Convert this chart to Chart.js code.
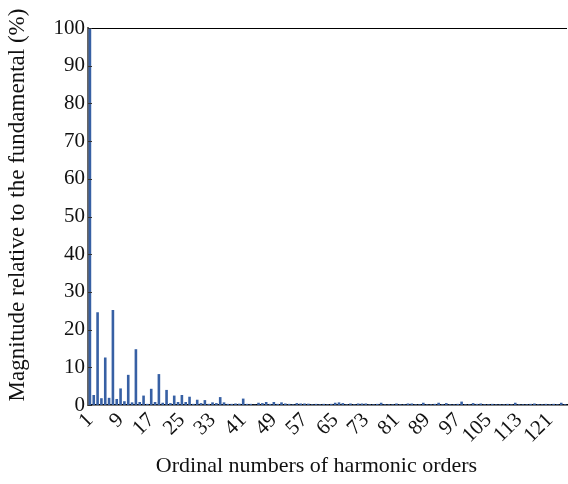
<!DOCTYPE html>
<html>
<head>
<meta charset="utf-8">
<script src="https://cdn.jsdelivr.net/npm/chart.js@4/dist/chart.umd.min.js"></script>
<style>
  html, body { margin: 0; padding: 0; background: #fff; }
  #wrap { width: 568px; height: 484px; }
</style>
</head>
<body>
<div id="wrap"><canvas id="harmonics"></canvas></div>
<script>
// Harmonic orders on the x axis
const orders = [
    1, 2, 3, 4, 5, 6, 7, 8, 9, 10, 11, 12, 13, 14, 15, 16, 17, 18, 19, 20,
    21, 22, 23, 24, 25, 26, 27, 28, 29, 30, 31, 32, 33, 34, 35, 36, 37, 38, 39, 40,
    41, 42, 43, 44, 45, 46, 47, 48, 49, 50, 51, 52, 53, 54, 55, 56, 57, 58, 59, 60,
    61, 62, 63, 64, 65, 66, 67, 68, 69, 70, 71, 72, 73, 74, 75, 76, 77, 78, 79, 80,
    81, 82, 83, 84, 85, 86, 87, 88, 89, 90, 91, 92, 93, 94, 95, 96, 97, 98, 99, 100,
    101, 102, 103, 104, 105, 106, 107, 108, 109, 110, 111, 112, 113, 114, 115, 116, 117, 118, 119, 120,
    121, 122, 123, 124, 125
];

// Magnitude of each harmonic, % of the fundamental
const magnitudes = [
    100, 2.65, 24.6, 1.8, 12.6, 1.9, 25.2, 1.6, 4.4, 1.0,
    8.0, 0.7, 14.8, 0.8, 2.5, 0.3, 4.3, 0.8, 8.2, 0.6,
    4.0, 0.5, 2.5, 0.8, 2.65, 0.8, 2.2, 0.3, 1.4, 0.5,
    1.3, 0.3, 0.7, 0.5, 2.1, 0.7, 0.3, 0.3, 0.4, 0.35,
    1.7, 0.3, 0.3, 0.1, 0.6, 0.5, 0.8, 0.3, 0.8, 0.3,
    0.7, 0.4, 0.3, 0.2, 0.5, 0.4, 0.4, 0.35, 0.2, 0.3,
    0.2, 0.3, 0.2, 0.3, 0.6, 0.7, 0.5, 0.2, 0.4, 0.2,
    0.4, 0.4, 0.4, 0.2, 0.2, 0.3, 0.6, 0.2, 0.2, 0.2,
    0.4, 0.2, 0.2, 0.4, 0.4, 0.2, 0.2, 0.6, 0.2, 0.2,
    0.3, 0.6, 0.2, 0.5, 0.2, 0.2, 0.3, 0.9, 0.2, 0.2,
    0.5, 0.3, 0.4, 0.2, 0.2, 0.3, 0.2, 0.2, 0.2, 0.3,
    0.2, 0.6, 0.2, 0.2, 0.2, 0.3, 0.4, 0.2, 0.2, 0.3,
    0.2, 0.3, 0.2, 0.6, 0.2
];

// Orders that get a label under the axis
const shownOrders = [1, 9, 17, 25, 33, 41, 49, 57, 65, 73, 81, 89, 97, 105, 113, 121];

const yTicks = [0, 10, 20, 30, 40, 50, 60, 70, 80, 90, 100];

const serif = 'Liberation Serif, Times New Roman, serif';
const pad = '\u00a0\u00a0\u00a0\u00a0'; // nudges the axis titles off centre like the original

// Draws the top frame line and the short inward y ticks
const framePlugin = {
    id: 'frame',
    afterDraw(chart) {
        const ctx = chart.ctx;
        const area = chart.chartArea;
        const yScale = chart.scales.y;
        ctx.save();
        ctx.strokeStyle = '#000';
        ctx.lineWidth = 1;
        ctx.beginPath();
        ctx.moveTo(area.left, area.top + 0.5);
        ctx.lineTo(area.right, area.top + 0.5);
        ctx.stroke();
        ctx.strokeStyle = '#333';
        yScale.ticks.forEach(t => {
            const py = Math.round(yScale.getPixelForValue(t.value)) + 0.5;
            ctx.beginPath();
            ctx.moveTo(area.left, py);
            ctx.lineTo(area.left + 4, py);
            ctx.stroke();
        });
        ctx.restore();
    }
};

new Chart(document.getElementById('harmonics').getContext('2d'), {
    type: 'bar',
    data: {
        labels: orders,
        datasets: [{
            data: magnitudes,
            backgroundColor: '#3760a4',
            borderWidth: 0,
            categoryPercentage: 1,
            barPercentage: 0.68
        }]
    },
    options: {
        responsive: true,
        maintainAspectRatio: false,
        animation: false,
        layout: { padding: { top: 28, right: 1, bottom: 0, left: 0 } },
        plugins: {
            legend: { display: false },
            tooltip: { enabled: false }
        },
        scales: {
            x: {
                offset: true,
                grid: { display: false, drawTicks: false },
                border: { display: true, color: '#000', width: 1.5 },
                ticks: {
                    autoSkip: false,
                    minRotation: 45,
                    maxRotation: 45,
                    padding: 3,
                    color: '#111',
                    font: { family: serif, size: 21 },
                    callback: function(value, index) {
                        return shownOrders.includes(orders[index]) ? String(orders[index]) : '';
                    }
                },
                title: {
                    display: true,
                    text: 'Ordinal numbers of harmonic orders' + pad,
                    color: '#111',
                    font: { family: serif, size: 22 },
                    padding: { top: 0, bottom: 5 }
                },
                afterFit(scale) {
                    scale.height = 79;
                    scale.paddingLeft = 0;
                    scale.paddingRight = 0;
                }
            },
            y: {
                min: 0,
                max: 100,
                afterBuildTicks(scale) { scale.ticks = yTicks.map(v => ({ value: v })); },
                grid: { display: false, drawTicks: false },
                border: { display: true, color: '#666', width: 2 },
                ticks: {
                    padding: 3,
                    color: '#111',
                    font: { family: serif, size: 21 }
                },
                title: {
                    display: true,
                    text: pad + 'Magnitude relative to the fundamental (%)',
                    color: '#111',
                    font: { family: serif, size: 23 },
                    padding: { top: 4, bottom: 0 }
                },
                afterFit(scale) { scale.width = 88; }
            }
        }
    },
    plugins: [framePlugin]
});
</script>
</body>
</html>
